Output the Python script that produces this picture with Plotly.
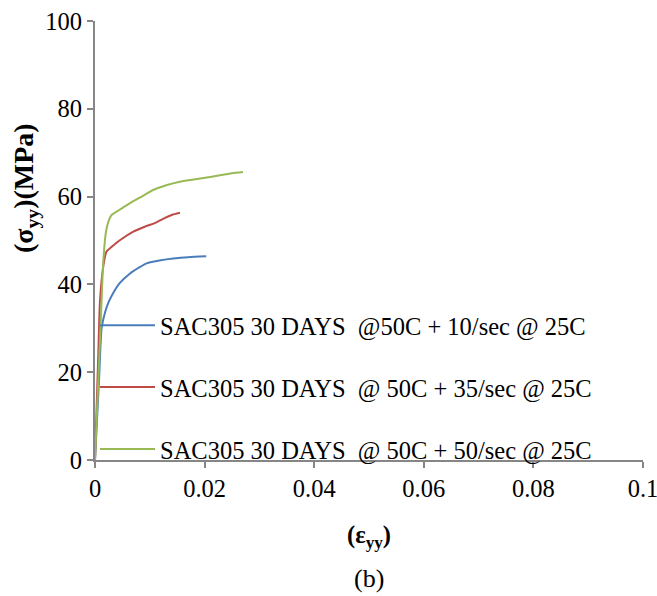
import plotly.graph_objects as go

names = [
    "SAC305 30 DAYS  @50C + 10/sec @ 25C",
    "SAC305 30 DAYS  @ 50C + 35/sec @ 25C",
    "SAC305 30 DAYS  @ 50C + 50/sec @ 25C",
]
colors = ["#4a7ebb", "#be4b48", "#98b954"]

blue_x = [0, 0.0004, 0.0008, 0.0012, 0.0018, 0.0025, 0.0033, 0.0045, 0.0064, 0.008, 0.0094, 0.012, 0.0143, 0.017, 0.0203]
blue_y = [0, 10, 20, 30, 33.5, 36, 38, 40.3, 42.5, 43.8, 44.8, 45.5, 45.9, 46.2, 46.4]

red_x = [0, 0.0003, 0.0006, 0.0009, 0.0015, 0.0021, 0.003, 0.0046, 0.007, 0.0094, 0.011, 0.0125, 0.014, 0.0155]
red_y = [0, 12, 24, 36, 44, 47.5, 48.5, 50.1, 52, 53.3, 54, 55, 55.8, 56.3]

green_x = [0, 0.0005, 0.001, 0.0015, 0.002, 0.0025, 0.003, 0.0045, 0.0064, 0.0085, 0.0106, 0.013, 0.0155, 0.018, 0.0216, 0.025, 0.027]
green_y = [0, 15, 30, 45, 52, 54.5, 55.8, 57, 58.5, 60, 61.5, 62.6, 63.4, 63.9, 64.6, 65.3, 65.6]

x_ticks = [0, 0.02, 0.04, 0.06, 0.08, 0.1]
x_tick_labels = ["0", "0.02", "0.04", "0.06", "0.08", "0.1"]
y_ticks = [0, 20, 40, 60, 80, 100]

series = [(blue_x, blue_y), (red_x, red_y), (green_x, green_y)]

fig = go.Figure()
for i, ((xs, ys), nm, c) in enumerate(zip(series, names, colors)):
    fig.add_trace(go.Scatter(x=xs, y=ys, mode="lines", name=nm,
                             line=dict(color=c, width=2, shape="spline", smoothing=0.6),
                             legendgroup=f"g{i}"))

font_family = "Liberation Serif"
axis_color = "#868686"
fs = 24.5

fig.update_layout(
    width=657, height=596,
    margin=dict(l=95, r=14, t=21, b=136, autoexpand=False),
    paper_bgcolor="white", plot_bgcolor="white",
    font=dict(family=font_family, size=fs, color="black"),
    showlegend=True,
    legend=dict(x=0.0, y=0.358, xanchor="left", yanchor="top",
                bgcolor="rgba(0,0,0,0)", font=dict(family=font_family, size=fs, color="black"),
                tracegroupgap=27, itemwidth=55, traceorder="grouped"),
    xaxis=dict(range=[0, 0.1], tickvals=x_ticks, ticktext=x_tick_labels, automargin=False,
               ticklabeloverflow="allow",
               showgrid=False, zeroline=False, showline=True, linecolor=axis_color, linewidth=2,
               ticks="outside", ticklen=6, tickcolor=axis_color, tickwidth=2,
               tickfont=dict(family=font_family, size=fs),
               title=dict(text="<b>(ε<sub>yy</sub>)</b>", font=dict(family=font_family, size=fs), standoff=24)),
    yaxis=dict(range=[0, 100], tickvals=y_ticks, automargin=False,
               ticklabeloverflow="allow",
               showgrid=False, zeroline=False, showline=True, linecolor=axis_color, linewidth=2,
               ticks="outside", ticklen=6, tickcolor=axis_color, tickwidth=2,
               tickfont=dict(family=font_family, size=fs)),
    annotations=[
        dict(text="<b>(σ<sub>yy</sub>)(MPa)</b>", textangle=-90, x=(26 - 95) / 548, y=(460 - 188) / 439,
             xref="paper", yref="paper", xanchor="center", yanchor="middle", showarrow=False,
             font=dict(family=font_family, size=28)),
        dict(text="(b)", x=0.5, y=-(578 - 460) / 439, xref="paper", yref="paper",
             yanchor="middle", showarrow=False,
             font=dict(family=font_family, size=26)),
    ],
)

fig.write_html("out.html")
